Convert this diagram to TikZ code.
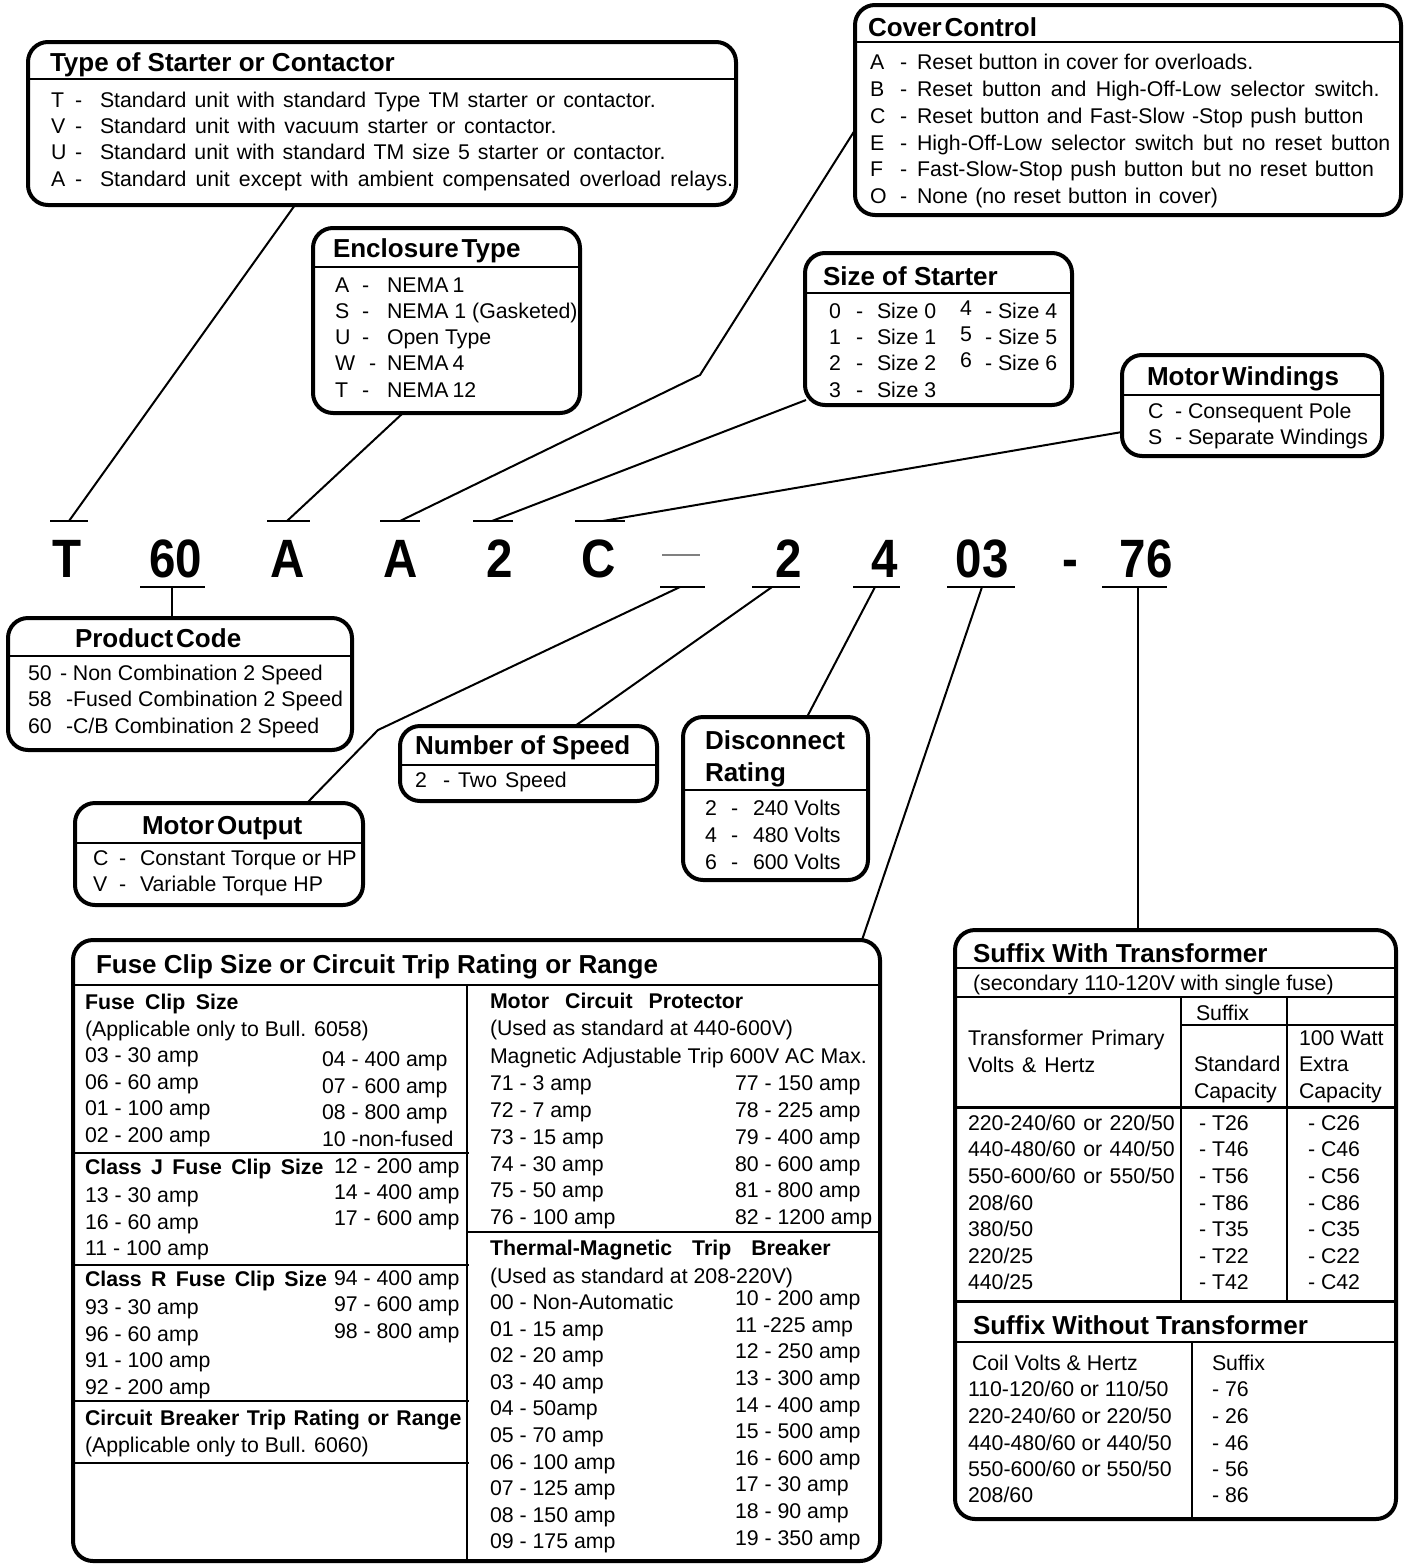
\documentclass[tikz,border=0pt]{standalone}
\usepackage{fontspec}
\setmainfont{Liberation Sans}
\newfontfamily\bigfam{Liberation Sans}[FakeStretch=0.88]
\usetikzlibrary{fit}
\newcommand\bodyf{\fontsize{21.3}{25}\selectfont}
\newcommand\titlef{\fontsize{26}{30}\selectfont\bfseries}
\newcommand\subf{\fontsize{21.3}{25}\selectfont\bfseries}
\newcommand\codef{\bigfam\fontsize{54}{60}\selectfont\bfseries}
\newcommand\sps[1]{\spaceskip=#1pt\relax}
\newcounter{tn}
\newcommand\mytx[4][txt]{\stepcounter{tn}\node[#1] (t\arabic{tn}) at (#2,#3) {#4};}
\tikzset{
  box/.style={draw, line width=4pt, rounded corners=20pt, inner sep=0pt},
  sepline/.style={line width=2pt},
  thicksep/.style={line width=3pt},
  con/.style={line width=2pt},
  bar/.style={line width=2.5pt},
  txt/.style={anchor=west, inner sep=0pt, outer sep=0pt, font=\bodyf, text height=15.2pt, text depth=0pt},
  ttl/.style={txt, font=\titlef, text height=18.6pt},
  sub/.style={txt, font=\subf},
  code/.style={anchor=base, inner sep=0pt, font=\codef},
}
\begin{document}
\begin{tikzpicture}[x=1pt,y=-1pt]
\useasboundingbox (0,0) rectangle (1404,1564);
\fill[white] (0,0) rectangle (1404,1564);

% ---------------- boxes ----------------
\node[box, fit={(28,42) (736,205)}] (ts) {};
\node[box, fit={(313,228) (580,413)}] (en) {};
\node[box, fit={(855,5) (1401,215)}] (cc) {};
\node[box, fit={(805,253) (1072,405)}] (ss) {};
\node[box, fit={(1122,355) (1382,456)}] (mw) {};
\node[box, fit={(8,618) (352,750)}] (pc) {};
\node[box, fit={(400,726) (657,801)}] (ns) {};
\node[box, fit={(683,717) (868,880)}] (dr) {};
\node[box, fit={(75,803) (363,905)}] (mo) {};
\node[box, fit={(73,940) (880,1561)}] (fu) {};
\node[box, fit={(955,930) (1396,1519)}] (sf) {};

% separators
\draw[sepline] (28,79) -- (736,79);
\draw[sepline] (313,267) -- (580,267);
\draw[sepline] (855,42) -- (1401,42);
\draw[sepline] (805,293) -- (1072,293);
\draw[sepline] (1122,395) -- (1382,395);
\draw[sepline] (8,656) -- (352,656);
\draw[sepline] (400,765) -- (657,765);
\draw[sepline] (683,790) -- (868,790);
\draw[sepline] (75,843) -- (363,843);

% ---------------- Type of Starter ----------------
\mytx[ttl]{50}{62}{Type of Starter or Contactor}
\mytx{51}{100}{T}\mytx{75}{100}{-}\mytx{100}{100}{\sps{8.2}Standard unit with standard Type TM starter or contactor.}
\mytx{51}{126}{V}\mytx{75}{126}{-}\mytx{100}{126}{\sps{8.6}Standard unit with vacuum starter or contactor.}
\mytx{51}{152}{U}\mytx{75}{152}{-}\mytx{100}{152}{\sps{8.0}Standard unit with standard TM size 5 starter or contactor.}
\mytx{51}{179}{A}\mytx{75}{179}{-}\mytx{100}{179}{\sps{9.1}Standard unit except with ambient compensated overload relays.}

% ---------------- Enclosure Type ----------------
\mytx[ttl]{333}{248}{Enclosure\kern3pt Type}
\mytx{335}{285}{A}\mytx{362}{285}{-}\mytx{387}{285}{NEMA\kern4pt 1}
\mytx{335}{311}{S}\mytx{362}{311}{-}\mytx{387}{311}{NEMA 1 (Gasketed)}
\mytx{335}{337}{U}\mytx{362}{337}{-}\mytx{387}{337}{Open Type}
\mytx{335}{363}{W}\mytx{369}{363}{-}\mytx{387}{363}{NEMA\kern4pt 4}
\mytx{335}{390}{T}\mytx{362}{390}{-}\mytx{387}{390}{NEMA\kern4pt 12}

% ---------------- Cover Control ----------------
\mytx[ttl]{868}{27}{Cover\kern3pt Control}
\mytx{870}{62}{A}\mytx{900}{62}{-}\mytx{917}{62}{Reset button in cover for overloads.}
\mytx{870}{89}{B}\mytx{900}{89}{-}\mytx{917}{89}{\sps{9.5}Reset button and High-Off-Low selector switch.}
\mytx{870}{116}{C}\mytx{900}{116}{-}\mytx{917}{116}{\sps{7.5}Reset button and Fast-Slow -Stop push button}
\mytx{870}{143}{E}\mytx{900}{143}{-}\mytx{917}{143}{\sps{9.1}High-Off-Low selector switch but no reset button}
\mytx{870}{169}{F}\mytx{900}{169}{-}\mytx{917}{169}{\sps{7.7}Fast-Slow-Stop push button but no reset button}
\mytx{870}{196}{O}\mytx{900}{196}{-}\mytx{917}{196}{\sps{7.4}None (no reset button in cover)}

% ---------------- Size of Starter ----------------
\mytx[ttl]{823}{276}{Size of Starter}
\mytx{829}{311}{0}\mytx{856}{311}{-}\mytx{877}{311}{Size 0}
\mytx{829}{337}{1}\mytx{856}{337}{-}\mytx{877}{337}{Size 1}
\mytx{829}{363}{2}\mytx{856}{363}{-}\mytx{877}{363}{Size 2}
\mytx{829}{390}{3}\mytx{856}{390}{-}\mytx{877}{390}{Size 3}
\mytx{960}{308}{4}\mytx{985}{311}{- Size 4}
\mytx{960}{334}{5}\mytx{985}{337}{- Size 5}
\mytx{960}{360}{6}\mytx{985}{363}{- Size 6}

% ---------------- Motor Windings ----------------
\mytx[ttl]{1147}{376}{Motor\kern3pt Windings}
\mytx{1148}{411}{C}\mytx{1175}{411}{- Consequent Pole}
\mytx{1148}{437}{S}\mytx{1175}{437}{- Separate Windings}

% ---------------- Product Code ----------------
\mytx[ttl]{75}{638}{Product\kern3pt Code}
\mytx{28}{673}{50}\mytx{60}{673}{- Non Combination 2 Speed}
\mytx{28}{699}{58}\mytx{66}{699}{-Fused Combination 2 Speed}
\mytx{28}{726}{60}\mytx{66}{726}{-C/B Combination 2 Speed}

% ---------------- Number of Speed ----------------
\mytx[ttl]{415}{745}{Number of Speed}
\mytx{415}{780}{2}\mytx{443}{780}{\sps{8}- Two Speed}

% ---------------- Disconnect Rating ----------------
\mytx[ttl]{705}{740}{Disconnect}
\mytx[ttl]{705}{772}{Rating}
\mytx{705}{808}{2}\mytx{731}{808}{-}\mytx{753}{808}{240 Volts}
\mytx{705}{835}{4}\mytx{731}{835}{-}\mytx{753}{835}{480 Volts}
\mytx{705}{862}{6}\mytx{731}{862}{-}\mytx{753}{862}{600 Volts}

% ---------------- Motor Output ----------------
\mytx[ttl]{142}{825}{Motor\kern3pt Output}
\mytx{93}{858}{C}\mytx{119}{858}{-}\mytx{140}{858}{Constant Torque or HP}
\mytx{93}{884}{V}\mytx{119}{884}{-}\mytx{140}{884}{Variable Torque HP}

% ---------------- code row ----------------
\node[code] (cT) at (67,577) {T};
\node[code] (c60) at (176,577) {60};
\node[code] (cA1) at (288,577) {A};
\node[code] (cA2) at (401,577) {A};
\node[code] (c2a) at (500,577) {2};
\node[code] (cC) at (599,577) {C};
\node[code] (c2b) at (789,577) {2};
\node[code] (c4) at (885,577) {4};
\node[code] (c03) at (982,577) {03};
\node[code] (cdash) at (1070,577) {-};
\node[code] (c76) at (1146,577) {76};
\draw[line width=1.5pt, gray] (662,555) -- (700,555);

% bars above
\coordinate (bT) at (69,521);  \draw[bar] (50,521) -- (88,521);
\coordinate (bA1) at (287,521); \draw[bar] (267,521) -- (310,521);
\coordinate (bA2) at (400,521); \draw[bar] (380,521) -- (420,521);
\coordinate (b2a) at (492,521); \draw[bar] (473,521) -- (513,521);
\coordinate (bC) at (603,521); \draw[bar] (575,521) -- (625,521);
% bars below
\coordinate (b60) at (172,587); \draw[bar] (140,587) -- (205,587);
\coordinate (bdash) at (680,587); \draw[bar] (660,587) -- (705,587);
\coordinate (b2b) at (772,587); \draw[bar] (752,587) -- (800,587);
\coordinate (b4) at (875,587); \draw[bar] (853,587) -- (900,587);
\coordinate (b03) at (982,587); \draw[bar] (947,587) -- (1015,587);
\coordinate (b76) at (1138,587); \draw[bar] (1102,587) -- (1167,587);

% connector anchor points on boxes
\coordinate (tsP) at (295,205);
\coordinate (enP) at (403,413);
\coordinate (ccK) at (700,375);
\coordinate (ccP) at (855,130);
\coordinate (ssP) at (806,400);
\coordinate (mwP) at (1122,432);
\coordinate (pcP) at (172,618);
\coordinate (moK) at (378,730);
\coordinate (moP) at (307,803);
\coordinate (nsP) at (575,726);
\coordinate (drP) at (807,717);
\coordinate (fuP) at (862,940);
\coordinate (sfP) at (1138,930);

\draw[con] (tsP) -- (bT);
\draw[con] (enP) -- (bA1);
\draw[con] (bA2) -- (ccK) -- (ccP);
\draw[con] (ssP) -- (b2a);
\draw[con] (mwP) -- (bC);
\draw[con] (b60) -- (pcP);
\draw[con] (bdash) -- (moK) -- (moP);
\draw[con] (b2b) -- (nsP);
\draw[con] (b4) -- (drP);
\draw[con] (b03) -- (fuP);
\draw[con] (b76) -- (sfP);

% ---------------- Fuse Clip box ----------------
\draw[sepline] (73,985) -- (880,985);
\draw[sepline] (467,985) -- (467,1561);
\draw[sepline] (73,1153) -- (469,1153);
\draw[sepline] (73,1265) -- (469,1265);
\draw[sepline] (73,1401) -- (469,1401);
\draw[sepline] (73,1463) -- (469,1463);
\draw[sepline] (467,1232) -- (880,1232);
\mytx[ttl]{96}{964}{Fuse Clip Size or Circuit Trip Rating or Range}

\mytx[sub]{85}{1002}{\sps{10.5}Fuse Clip Size}
\mytx{85}{1029}{(Applicable only to Bull. 6058)}
\mytx{85}{1055}{03 - 30 amp}\mytx{322}{1059}{04 - 400 amp}
\mytx{85}{1082}{06 - 60 amp}\mytx{322}{1086}{07 - 600 amp}
\mytx{85}{1108}{01 - 100 amp}\mytx{322}{1112}{08 - 800 amp}
\mytx{85}{1135}{02 - 200 amp}\mytx{322}{1139}{10\kern6pt-non-fused}
\mytx[sub]{85}{1167}{\sps{9.3}Class J Fuse Clip Size}\mytx{334}{1166}{12 - 200 amp}
\mytx{85}{1195}{13 - 30 amp}\mytx{334}{1192}{14 - 400 amp}
\mytx{85}{1222}{16 - 60 amp}\mytx{334}{1218}{17 - 600 amp}
\mytx{85}{1248}{11 - 100 amp}
\mytx[sub]{85}{1279}{\sps{9.3}Class R Fuse Clip Size}\mytx{334}{1278}{94 - 400 amp}
\mytx{85}{1307}{93 - 30 amp}\mytx{334}{1304}{97 - 600 amp}
\mytx{85}{1334}{96 - 60 amp}\mytx{334}{1331}{98 - 800 amp}
\mytx{85}{1360}{91 - 100 amp}
\mytx{85}{1387}{92 - 200 amp}
\mytx[sub]{85}{1418}{\sps{7.6}Circuit Breaker Trip Rating or Range}
\mytx{85}{1445}{(Applicable only to Bull. 6060)}

\mytx[sub]{490}{1001}{\sps{16}Motor Circuit Protector}
\mytx{490}{1028}{(Used as standard at 440-600V)}
\mytx{490}{1056}{Magnetic Adjustable Trip 600V AC Max.}
\mytx{490}{1083}{71 - 3 amp}\mytx{735}{1083}{77 - 150 amp}
\mytx{490}{1110}{72 - 7 amp}\mytx{735}{1110}{78 - 225 amp}
\mytx{490}{1137}{73 - 15 amp}\mytx{735}{1137}{79 - 400 amp}
\mytx{490}{1164}{74 - 30 amp}\mytx{735}{1164}{80 - 600 amp}
\mytx{490}{1190}{75 - 50 amp}\mytx{735}{1190}{81 - 800 amp}
\mytx{490}{1217}{76 - 100 amp}\mytx{735}{1217}{82 - 1200 amp}
\mytx[sub]{490}{1248}{\sps{20}Thermal-Magnetic Trip Breaker}
\mytx{490}{1276}{(Used as standard at 208-220V)}
\mytx{490}{1302}{00 - Non-Automatic}\mytx{735}{1298}{10 - 200 amp}
\mytx{490}{1329}{01 - 15 amp}\mytx{735}{1325}{11 -225 amp}
\mytx{490}{1355}{02 - 20 amp}\mytx{735}{1351}{12 - 250 amp}
\mytx{490}{1382}{03 - 40 amp}\mytx{735}{1378}{13 - 300 amp}
\mytx{490}{1408}{04 - 50amp}\mytx{735}{1405}{14 - 400 amp}
\mytx{490}{1435}{05 - 70 amp}\mytx{735}{1431}{15 - 500 amp}
\mytx{490}{1462}{06 - 100 amp}\mytx{735}{1458}{16 - 600 amp}
\mytx{490}{1488}{07 - 125 amp}\mytx{735}{1484}{17 - 30 amp}
\mytx{490}{1515}{08 - 150 amp}\mytx{735}{1511}{18 - 90 amp}
\mytx{490}{1541}{09 - 175 amp}\mytx{735}{1538}{19 - 350 amp}

% ---------------- Suffix box ----------------
\draw[sepline] (955,968) -- (1396,968);
\draw[sepline] (955,997) -- (1396,997);
\draw[sepline] (1181,997) -- (1181,1301);
\draw[sepline] (1287,997) -- (1287,1301);
\draw[sepline] (1181,1025) -- (1396,1025);
\draw[thicksep] (955,1107) -- (1396,1107);
\draw[thicksep] (955,1301) -- (1396,1301);
\draw[sepline] (955,1342) -- (1396,1342);
\draw[sepline] (1192,1342) -- (1192,1519);

\mytx[ttl]{973}{953}{Suffix With Transformer}
\mytx{973}{983}{(secondary 110-120V with single fuse)}
\mytx{1196}{1013}{Suffix}
\mytx{968}{1038}{\sps{8}Transformer Primary}
\mytx{968}{1065}{\sps{8}Volts \& Hertz}
\mytx{1299}{1038}{100 Watt}
\mytx{1194}{1064}{Standard}\mytx{1299}{1064}{Extra}
\mytx{1194}{1091}{Capacity}\mytx{1299}{1091}{Capacity}
\mytx{968}{1123}{\sps{7.5}220-240/60 or 220/50}\mytx{1199}{1123}{- T26}\mytx{1308}{1123}{- C26}
\mytx{968}{1149}{\sps{7.5}440-480/60 or 440/50}\mytx{1199}{1149}{- T46}\mytx{1308}{1149}{- C46}
\mytx{968}{1176}{\sps{7.5}550-600/60 or 550/50}\mytx{1199}{1176}{- T56}\mytx{1308}{1176}{- C56}
\mytx{968}{1203}{208/60}\mytx{1199}{1203}{- T86}\mytx{1308}{1203}{- C86}
\mytx{968}{1229}{380/50}\mytx{1199}{1229}{- T35}\mytx{1308}{1229}{- C35}
\mytx{968}{1256}{220/25}\mytx{1199}{1256}{- T22}\mytx{1308}{1256}{- C22}
\mytx{968}{1282}{440/25}\mytx{1199}{1282}{- T42}\mytx{1308}{1282}{- C42}

\mytx[ttl]{973}{1325}{Suffix Without Transformer}
\mytx{972}{1363}{Coil Volts \& Hertz}\mytx{1212}{1363}{Suffix}
\mytx{968}{1389}{110-120/60 or 110/50}\mytx{1212}{1389}{- 76}
\mytx{968}{1416}{220-240/60 or 220/50}\mytx{1212}{1416}{- 26}
\mytx{968}{1443}{440-480/60 or 440/50}\mytx{1212}{1443}{- 46}
\mytx{968}{1469}{550-600/60 or 550/50}\mytx{1212}{1469}{- 56}
\mytx{968}{1495}{208/60}\mytx{1212}{1495}{- 86}
\end{tikzpicture}
\end{document}
